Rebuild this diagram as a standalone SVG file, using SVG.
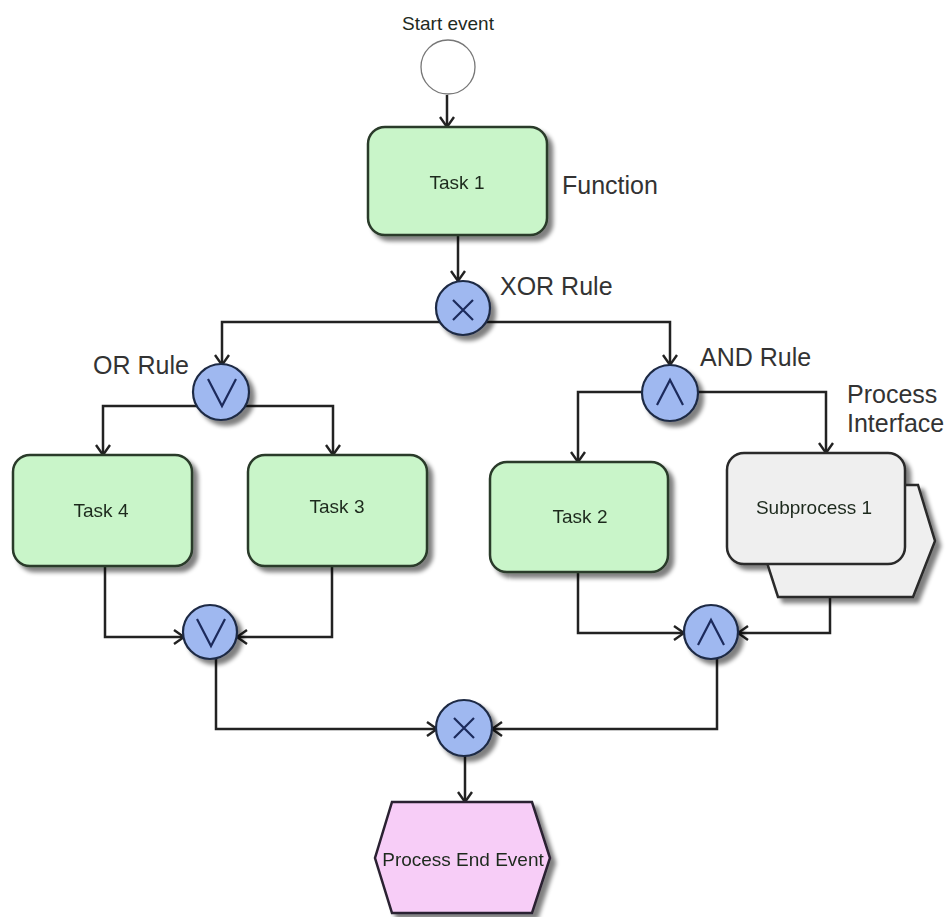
<svg xmlns="http://www.w3.org/2000/svg" width="948" height="917" viewBox="0 0 948 917">
  <defs>
    <filter id="shadow" x="-20%" y="-20%" width="150%" height="150%">
      <feGaussianBlur in="SourceAlpha" stdDeviation="2"/>
      <feOffset dx="5" dy="5" result="off"/>
      <feComponentTransfer><feFuncA type="linear" slope="0.5"/></feComponentTransfer>
      <feMerge><feMergeNode/><feMergeNode in="SourceGraphic"/></feMerge>
    </filter>
    <marker id="arrow" viewBox="0 0 12 16" refX="11" refY="8" markerWidth="12" markerHeight="16" markerUnits="userSpaceOnUse" orient="auto">
      <path d="M1,1 L11,8 L1,15" fill="none" stroke="#222" stroke-width="2.4"/>
    </marker>
  </defs>
  <style>
    .task { fill: #c9f5c9; stroke: #2a3a2a; stroke-width: 2.5; }
    .sub { fill: #efefef; stroke: #2a2a2a; stroke-width: 2.5; }
    .gate { fill: #9fb8f0; stroke: #1f2a44; stroke-width: 2.2; }
    .sym { fill: none; stroke: #1c2b5c; stroke-width: 2.2; stroke-linejoin: miter; }
    .end { fill: #f7cdf7; stroke: #2a2030; stroke-width: 2.5; }
    .start { fill: #ffffff; stroke: #777; stroke-width: 1.3; }
    .edge { fill: none; stroke: #222; stroke-width: 2.5; }
    .edge.a { marker-end: url(#arrow); }
    .ntext { font-family: "Liberation Sans", Arial, sans-serif; font-size: 19px; fill: #1e2a1e; text-anchor: middle; }
    .label { font-family: "Liberation Sans", Arial, sans-serif; font-size: 25px; fill: #333; }
  </style>
  <rect width="948" height="917" fill="#ffffff"/>

  <!-- connectors -->
  <g id="connectors">
    <path class="edge a" d="M447,95 V127"/>
    <path class="edge a" d="M458,236 V281"/>
    <path class="edge a" d="M440,322 H222 V365"/>
    <path class="edge a" d="M486,322 H670 V365"/>
    <path class="edge a" d="M197,406 H103 V455"/>
    <path class="edge a" d="M245,406 H333 V455"/>
    <path class="edge a" d="M642,392 H578 V462"/>
    <path class="edge a" d="M698,392 H826 V453"/>
    <path class="edge a" d="M105,567 V637 H184"/>
    <path class="edge a" d="M332,567 V637 H237"/>
    <path class="edge a" d="M578,572 V633 H684"/>
    <path class="edge a" d="M830,597 V633 H738"/>
    <path class="edge a" d="M216,658 V729 H437"/>
    <path class="edge a" d="M717,658 V729 H492"/>
    <path class="edge a" d="M465,756 V802"/>
  </g>

  <!-- start event -->
  <g id="start-event">
    <text x="448" y="30" class="ntext" fill="#333">Start event</text>
    <circle class="start" cx="448" cy="67" r="27"/>
  </g>

  <!-- functions -->
  <g id="task1" filter="url(#shadow)">
    <rect class="task" x="368" y="127" width="179" height="108" rx="17"/>
    <text x="457" y="189" class="ntext">Task 1</text>
  </g>
  <g id="task4" filter="url(#shadow)">
    <rect class="task" x="13" y="455" width="179" height="111" rx="17"/>
    <text x="101" y="517" class="ntext">Task 4</text>
  </g>
  <g id="task3" filter="url(#shadow)">
    <rect class="task" x="248" y="455" width="179" height="111" rx="17"/>
    <text x="337" y="513" class="ntext">Task 3</text>
  </g>
  <g id="task2" filter="url(#shadow)">
    <rect class="task" x="490" y="462" width="178" height="110" rx="17"/>
    <text x="580" y="523" class="ntext">Task 2</text>
  </g>

  <!-- process interface -->
  <g id="subprocess1" filter="url(#shadow)">
    <polygon class="sub" points="748,485 918,485 935,541 913,597 778,597 760,541"/>
    <rect class="sub" x="727" y="453" width="178" height="111" rx="17"/>
    <text x="814" y="514" class="ntext" fill="#333">Subprocess 1</text>
  </g>

  <!-- rules -->
  <g id="xor-split" filter="url(#shadow)">
    <circle class="gate" cx="463" cy="308" r="27"/>
    <path class="sym" d="M453,300 L473,320 M473,300 L453,320"/>
  </g>
  <g id="or-split" filter="url(#shadow)">
    <circle class="gate" cx="221" cy="392" r="28"/>
    <path class="sym" d="M208,379 L222,406 L236,379"/>
  </g>
  <g id="and-split" filter="url(#shadow)">
    <circle class="gate" cx="670" cy="393" r="28"/>
    <path class="sym" d="M657,405 L670,380 L683,405"/>
  </g>
  <g id="or-join" filter="url(#shadow)">
    <circle class="gate" cx="210" cy="632" r="27"/>
    <path class="sym" d="M197,619 L211,646 L225,619"/>
  </g>
  <g id="and-join" filter="url(#shadow)">
    <circle class="gate" cx="711" cy="632" r="27"/>
    <path class="sym" d="M698,645 L711,620 L724,645"/>
  </g>
  <g id="xor-join" filter="url(#shadow)">
    <circle class="gate" cx="464" cy="728" r="28"/>
    <path class="sym" d="M454,718 L474,738 M474,718 L454,738"/>
  </g>

  <!-- end event -->
  <g id="end-event" filter="url(#shadow)">
    <polygon class="end" points="392,802 532,802 550,858 532,913 392,913 375,858"/>
    <text x="463" y="866" class="ntext" fill="#2a2030">Process End Event</text>
  </g>

  <!-- annotations -->
  <g id="annotations">
    <text x="562" y="194" class="label">Function</text>
    <text x="500" y="295" class="label">XOR Rule</text>
    <text x="93" y="374" class="label">OR Rule</text>
    <text x="700" y="366" class="label">AND Rule</text>
    <text x="847" y="403" class="label">Process</text>
    <text x="847" y="432" class="label">Interface</text>
  </g>
</svg>
